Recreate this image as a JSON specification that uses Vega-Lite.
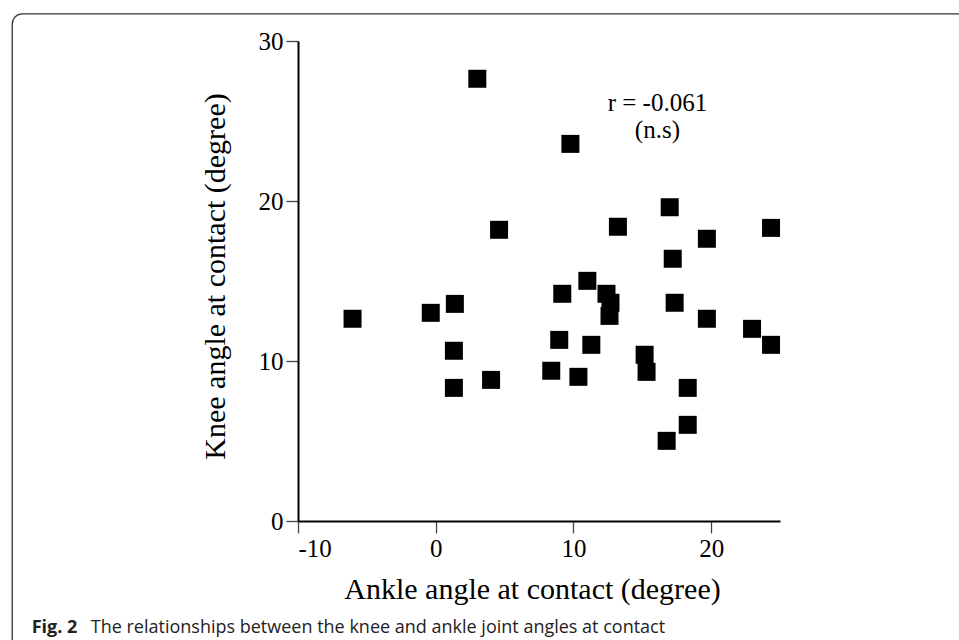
{
  "$schema": "https://vega.github.io/schema/vega-lite/v6.json",
  "width": 482,
  "height": 480,
  "autosize": {"type": "none"},
  "padding": {"left": 298, "top": 41, "right": 179, "bottom": 119},
  "background": "white",
  "config": {
    "view": {"stroke": null},
    "axis": {
      "grid": false,
      "domainColor": "black",
      "domainWidth": 2,
      "tickColor": "#444",
      "tickWidth": 1.3,
      "tickSize": 12,
      "labelFont": "Liberation Serif",
      "labelFontSize": 25,
      "labelColor": "black",
      "labelPadding": 3,
      "labelExpr": "'' + datum.value",
      "titleFont": "Liberation Serif",
      "titleFontSize": 30,
      "titleFontWeight": "normal",
      "titleColor": "black"
    }
  },
  "layer": [
    {
      "data": {"values": [{}]},
      "mark": {"type": "rect", "fill": null, "stroke": "#333", "strokeWidth": 1.3, "cornerRadius": 10, "clip": false},
      "encoding": {
        "x": {"datum": -30.75, "type": "quantitative"},
        "x2": {"datum": 39.2},
        "y": {"datum": 31.69, "type": "quantitative"},
        "y2": {"datum": -8.7}
      }
    },
    {
      "data": {
        "values": [
          {"ankle": 3.02, "knee": 27.64},
          {"ankle": 9.78, "knee": 23.57},
          {"ankle": 16.99, "knee": 19.61},
          {"ankle": 4.60, "knee": 18.20},
          {"ankle": 13.23, "knee": 18.39},
          {"ankle": 19.69, "knee": 17.64},
          {"ankle": 24.35, "knee": 18.32},
          {"ankle": 17.21, "knee": 16.39},
          {"ankle": 11.01, "knee": 15.01},
          {"ankle": -6.04, "knee": 12.64},
          {"ankle": -0.36, "knee": 13.01},
          {"ankle": 1.39, "knee": 13.57},
          {"ankle": 1.32, "knee": 10.64},
          {"ankle": 1.32, "knee": 8.32},
          {"ankle": 4.02, "knee": 8.82},
          {"ankle": 9.19, "knee": 14.20},
          {"ankle": 12.40, "knee": 14.20},
          {"ankle": 12.69, "knee": 13.64},
          {"ankle": 12.62, "knee": 12.82},
          {"ankle": 17.35, "knee": 13.64},
          {"ankle": 19.69, "knee": 12.64},
          {"ankle": 22.97, "knee": 12.01},
          {"ankle": 24.35, "knee": 11.01},
          {"ankle": 8.97, "knee": 11.32},
          {"ankle": 11.30, "knee": 11.01},
          {"ankle": 15.17, "knee": 10.39},
          {"ankle": 15.31, "knee": 9.32},
          {"ankle": 8.39, "knee": 9.39},
          {"ankle": 10.36, "knee": 9.01},
          {"ankle": 18.30, "knee": 8.32},
          {"ankle": 18.30, "knee": 6.01},
          {"ankle": 16.77, "knee": 5.01}
        ]
      },
      "mark": {"type": "point", "shape": "square", "filled": true, "fill": "black", "stroke": null, "opacity": 1, "size": 324},
      "encoding": {
        "x": {
          "field": "ankle", "type": "quantitative",
          "scale": {"domain": [-10, 25], "nice": false, "zero": false},
          "axis": {"values": [-10, 0, 10, 20], "title": "Ankle angle at contact (degree)", "titlePadding": 13, "titleX": 234}
        },
        "y": {
          "field": "knee", "type": "quantitative",
          "scale": {"domain": [0, 30], "nice": false, "zero": false},
          "axis": {"values": [0, 10, 20, 30], "title": "Knee angle at contact (degree)", "titlePadding": 28, "titleY": 235}
        }
      }
    },
    {
      "data": {"values": [{}]},
      "mark": {"type": "text", "font": "Liberation Serif", "fontSize": 25, "fontWeight": "normal", "align": "center", "baseline": "alphabetic", "fill": "black", "stroke": null},
      "encoding": {
        "x": {"datum": 16.1, "type": "quantitative"},
        "y": {"datum": 25.6, "type": "quantitative"},
        "text": {"value": "r = -0.061"}
      }
    },
    {
      "data": {"values": [{}]},
      "mark": {"type": "text", "font": "Liberation Serif", "fontSize": 25, "fontWeight": "normal", "align": "center", "baseline": "alphabetic", "fill": "black", "stroke": null},
      "encoding": {
        "x": {"datum": 16.1, "type": "quantitative"},
        "y": {"datum": 23.95, "type": "quantitative"},
        "text": {"value": "(n.s)"}
      }
    },
    {
      "data": {"values": [{}]},
      "mark": {"type": "text", "font": "Open Sans", "fontSize": 18, "fontWeight": "bold", "align": "left", "baseline": "alphabetic", "fill": "#222", "stroke": null, "clip": false},
      "encoding": {
        "x": {"datum": -29.34, "type": "quantitative"},
        "y": {"datum": -6.98, "type": "quantitative"},
        "text": {"value": "Fig. 2"}
      }
    },
    {
      "data": {"values": [{}]},
      "mark": {"type": "text", "font": "Open Sans", "fontSize": 18, "fontWeight": "normal", "align": "left", "baseline": "alphabetic", "fill": "#222", "stroke": null, "clip": false},
      "encoding": {
        "x": {"datum": -25.05, "type": "quantitative"},
        "y": {"datum": -6.98, "type": "quantitative"},
        "text": {"value": "The relationships between the knee and ankle joint angles at contact"}
      }
    }
  ]
}
